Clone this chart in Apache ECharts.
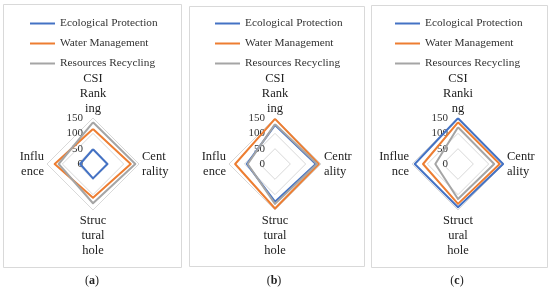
<!DOCTYPE html>
<html><head><meta charset="utf-8">
<script src="https://cdn.jsdelivr.net/npm/echarts@6/dist/echarts.min.js"></script>
<style>html,body{margin:0;padding:0;background:#fff}#c{width:550px;height:288px}</style>
</head><body><div id="c"></div>
<script>
// ---- data ----
const seriesNames = ['Ecological Protection', 'Water Management', 'Resources Recycling'];
const categories = ['CSI Ranking', 'Centrality', 'Structural hole', 'Influence']; // clockwise from top
const namesA = ['CSI\nRank\ning', 'Cent\nrality', 'Struc\ntural\nhole', 'Influ\nence'];
const namesB = ['CSI\nRank\ning', 'Centr\nality', 'Struc\ntural\nhole', 'Influ\nence'];
const namesC = ['CSI\nRanki\nng', 'Centr\nality', 'Struct\nural\nhole', 'Influe\nnce'];
const valueTicks = [0, 50, 100, 150];
const panelLetters = ['a', 'b', 'c'];

const ecoA = [48, 47, 47, 42];
const waterA = [114, 123, 110, 125];
const resA = [136, 138, 128, 112];

const ecoB = [127, 133, 123, 92];
const waterB = [147, 143, 145, 130];
const resB = [130, 137, 130, 89];

const ecoC = [149, 147, 141, 141];
const waterC = [136, 136, 130, 114];
const resC = [120, 118, 114, 74];

// ---- build ----
const FONT = 'Liberation Serif';
const colors = ['#4472C4', '#ED7D31', '#A5A5A5'];
const panels = [
  { names: namesA, vals: [ecoA, waterA, resA], cx: 93, legendLeft: 30, box: [3, 4, 178, 263] },
  { names: namesB, vals: [ecoB, waterB, resB], cx: 275, legendLeft: 215, box: [189, 6, 175, 260] },
  { names: namesC, vals: [ecoC, waterC, resC], cx: 458, legendLeft: 395, box: [371, 5, 176, 262] }
];
// ECharts places indicators counter-clockwise; reorder so the picture runs clockwise
const order = [0, 3, 2, 1];
const vMax = valueTicks[valueTicks.length - 1];
const vMin = valueTicks[0];

const option = {
  backgroundColor: '#fff',
  animation: false,
  radar: panels.map(p => ({
    center: [p.cx, 164],
    radius: 46,
    startAngle: 90,
    shape: 'polygon',
    splitNumber: valueTicks.length - 1,
    nameGap: 3,
    nameMoveOverlap: false,
    indicator: order.map((k, j) => {
      const ind = { name: p.names[k], min: vMin, max: vMax, axisLabel: { show: j === 0 }, nameMoveOverlap: false };
      if (j === 0) ind.nameGap = 2;
      return ind;
    }),
    axisName: { color: '#222', fontFamily: FONT, fontSize: 12.5, lineHeight: 15 },
    axisLine: { show: false },
    axisTick: { show: false },
    axisLabel: { show: false, fontFamily: FONT, fontSize: 11, color: '#333', margin: 10 },
    splitLine: { lineStyle: { color: '#D9D9D9', width: 1 } },
    splitArea: { show: false }
  })),
  legend: panels.map(p => ({
    orient: 'vertical', left: p.legendLeft, top: 18, padding: 0,
    itemGap: 9, itemWidth: 25, itemHeight: 2, icon: 'rect',
    selectedMode: false,
    data: seriesNames,
    textStyle: { fontFamily: FONT, fontSize: 11.3, color: '#333' }
  })),
  title: panels.map((p, i) => ({
    text: '({b|' + panelLetters[i] + '})',
    left: p.cx - 1, top: 275, textAlign: 'center', padding: 0,
    textStyle: {
      fontFamily: FONT, fontSize: 12, fontWeight: 'normal', color: '#222',
      rich: { b: { fontFamily: FONT, fontSize: 12, fontWeight: 'bold', color: '#222' } }
    }
  })),
  graphic: panels.map(p => ({
    type: 'rect', silent: true,
    shape: { x: p.box[0] + 0.5, y: p.box[1] + 0.5, width: p.box[2], height: p.box[3] },
    style: { fill: 'none', stroke: '#D9D9D9', lineWidth: 1 }
  })),
  series: panels.map((p, i) => ({
    type: 'radar', radarIndex: i, symbol: 'none',
    data: seriesNames.map((n, s) => ({
      name: n,
      value: order.map(k => p.vals[s][k]),
      lineStyle: { color: colors[s], width: 2 },
      itemStyle: { color: colors[s] }
    }))
  }))
};
echarts.init(document.getElementById('c'), null, { renderer: 'canvas' }).setOption(option);
</script></body></html>
